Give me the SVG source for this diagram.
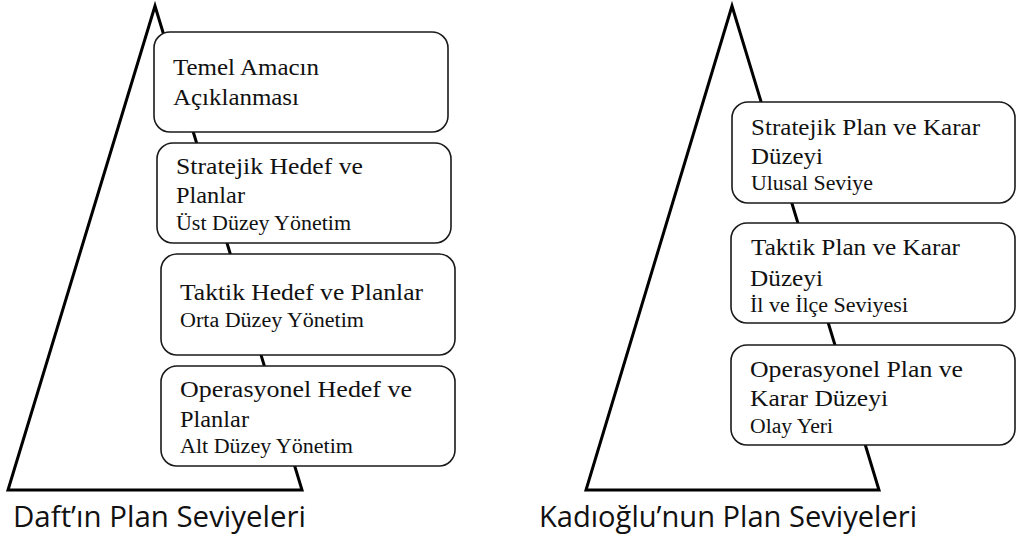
<svg xmlns="http://www.w3.org/2000/svg" width="1017" height="536" viewBox="0 0 1017 536">
<style>
.tri{fill:none;stroke:#000;stroke-width:3;stroke-linejoin:miter}
.box{fill:#fff;stroke:#1a1a1a;stroke-width:1.6}
.m{font-family:'Liberation Serif','DejaVu Serif',serif;font-size:23px;fill:#111}
.s{font-family:'Liberation Serif','DejaVu Serif',serif;font-size:20px;fill:#111}
.cap{font-family:'Open Sans','Noto Sans','Liberation Sans',sans-serif;font-size:30px;fill:#111}
</style>
<rect width="1017" height="536" fill="#fff"/>
<g id="connectors">
<polygon class="tri" points="155,6 8,490 302,490"/>
<polygon class="tri" points="732,6 586,490 879,490"/>
</g>
<g id="daft-1">
<rect class="box" x="154" y="32" width="294" height="100" rx="16"/>
<text class="m" x="173" y="75" textLength="146" lengthAdjust="spacingAndGlyphs">Temel Amacın</text>
<text class="m" x="173" y="105" textLength="126" lengthAdjust="spacingAndGlyphs">Açıklanması</text>
</g>
<g id="daft-2">
<rect class="box" x="157" y="143" width="294" height="100" rx="16"/>
<text class="m" x="176" y="174" textLength="187" lengthAdjust="spacingAndGlyphs">Stratejik Hedef ve</text>
<text class="m" x="176" y="203" textLength="69" lengthAdjust="spacingAndGlyphs">Planlar</text>
<text class="s" x="176" y="230" textLength="175" lengthAdjust="spacingAndGlyphs">Üst Düzey Yönetim</text>
</g>
<g id="daft-3">
<rect class="box" x="161" y="254" width="294" height="101" rx="16"/>
<text class="m" x="180" y="300" textLength="243" lengthAdjust="spacingAndGlyphs">Taktik Hedef ve Planlar</text>
<text class="s" x="180" y="327" textLength="184" lengthAdjust="spacingAndGlyphs">Orta Düzey Yönetim</text>
</g>
<g id="daft-4">
<rect class="box" x="161" y="366" width="294" height="100" rx="16"/>
<text class="m" x="180" y="397" textLength="232" lengthAdjust="spacingAndGlyphs">Operasyonel  Hedef ve</text>
<text class="m" x="180" y="427" textLength="69" lengthAdjust="spacingAndGlyphs">Planlar</text>
<text class="s" x="180" y="453" textLength="173" lengthAdjust="spacingAndGlyphs">Alt Düzey Yönetim</text>
</g>
<g id="kad-1">
<rect class="box" x="732" y="102" width="283" height="101" rx="16"/>
<text class="m" x="751" y="135" textLength="229" lengthAdjust="spacingAndGlyphs">Stratejik Plan ve Karar</text>
<text class="m" x="751" y="164" textLength="72" lengthAdjust="spacingAndGlyphs">Düzeyi</text>
<text class="s" x="751" y="190" textLength="122" lengthAdjust="spacingAndGlyphs">Ulusal Seviye</text>
</g>
<g id="kad-2">
<rect class="box" x="731" y="223" width="284" height="100" rx="16"/>
<text class="m" x="751" y="255" textLength="209" lengthAdjust="spacingAndGlyphs">Taktik Plan ve Karar</text>
<text class="m" x="750" y="286" textLength="73" lengthAdjust="spacingAndGlyphs">Düzeyi</text>
<text class="s" x="750" y="312" textLength="158" lengthAdjust="spacingAndGlyphs">İl ve İlçe Seviyesi</text>
</g>
<g id="kad-3">
<rect class="box" x="731" y="345" width="284" height="100" rx="16"/>
<text class="m" x="750" y="377" textLength="213" lengthAdjust="spacingAndGlyphs">Operasyonel  Plan ve</text>
<text class="m" x="750" y="406" textLength="138" lengthAdjust="spacingAndGlyphs">Karar  Düzeyi</text>
<text class="s" x="750" y="433" textLength="83" lengthAdjust="spacingAndGlyphs">Olay Yeri</text>
</g>
<g id="labels">
<text class="cap" x="13" y="527" textLength="293" lengthAdjust="spacingAndGlyphs">Daft’ın Plan Seviyeleri</text>
<text class="cap" x="539" y="527" textLength="378" lengthAdjust="spacingAndGlyphs">Kadıoğlu’nun Plan Seviyeleri</text>
</g>
</svg>
